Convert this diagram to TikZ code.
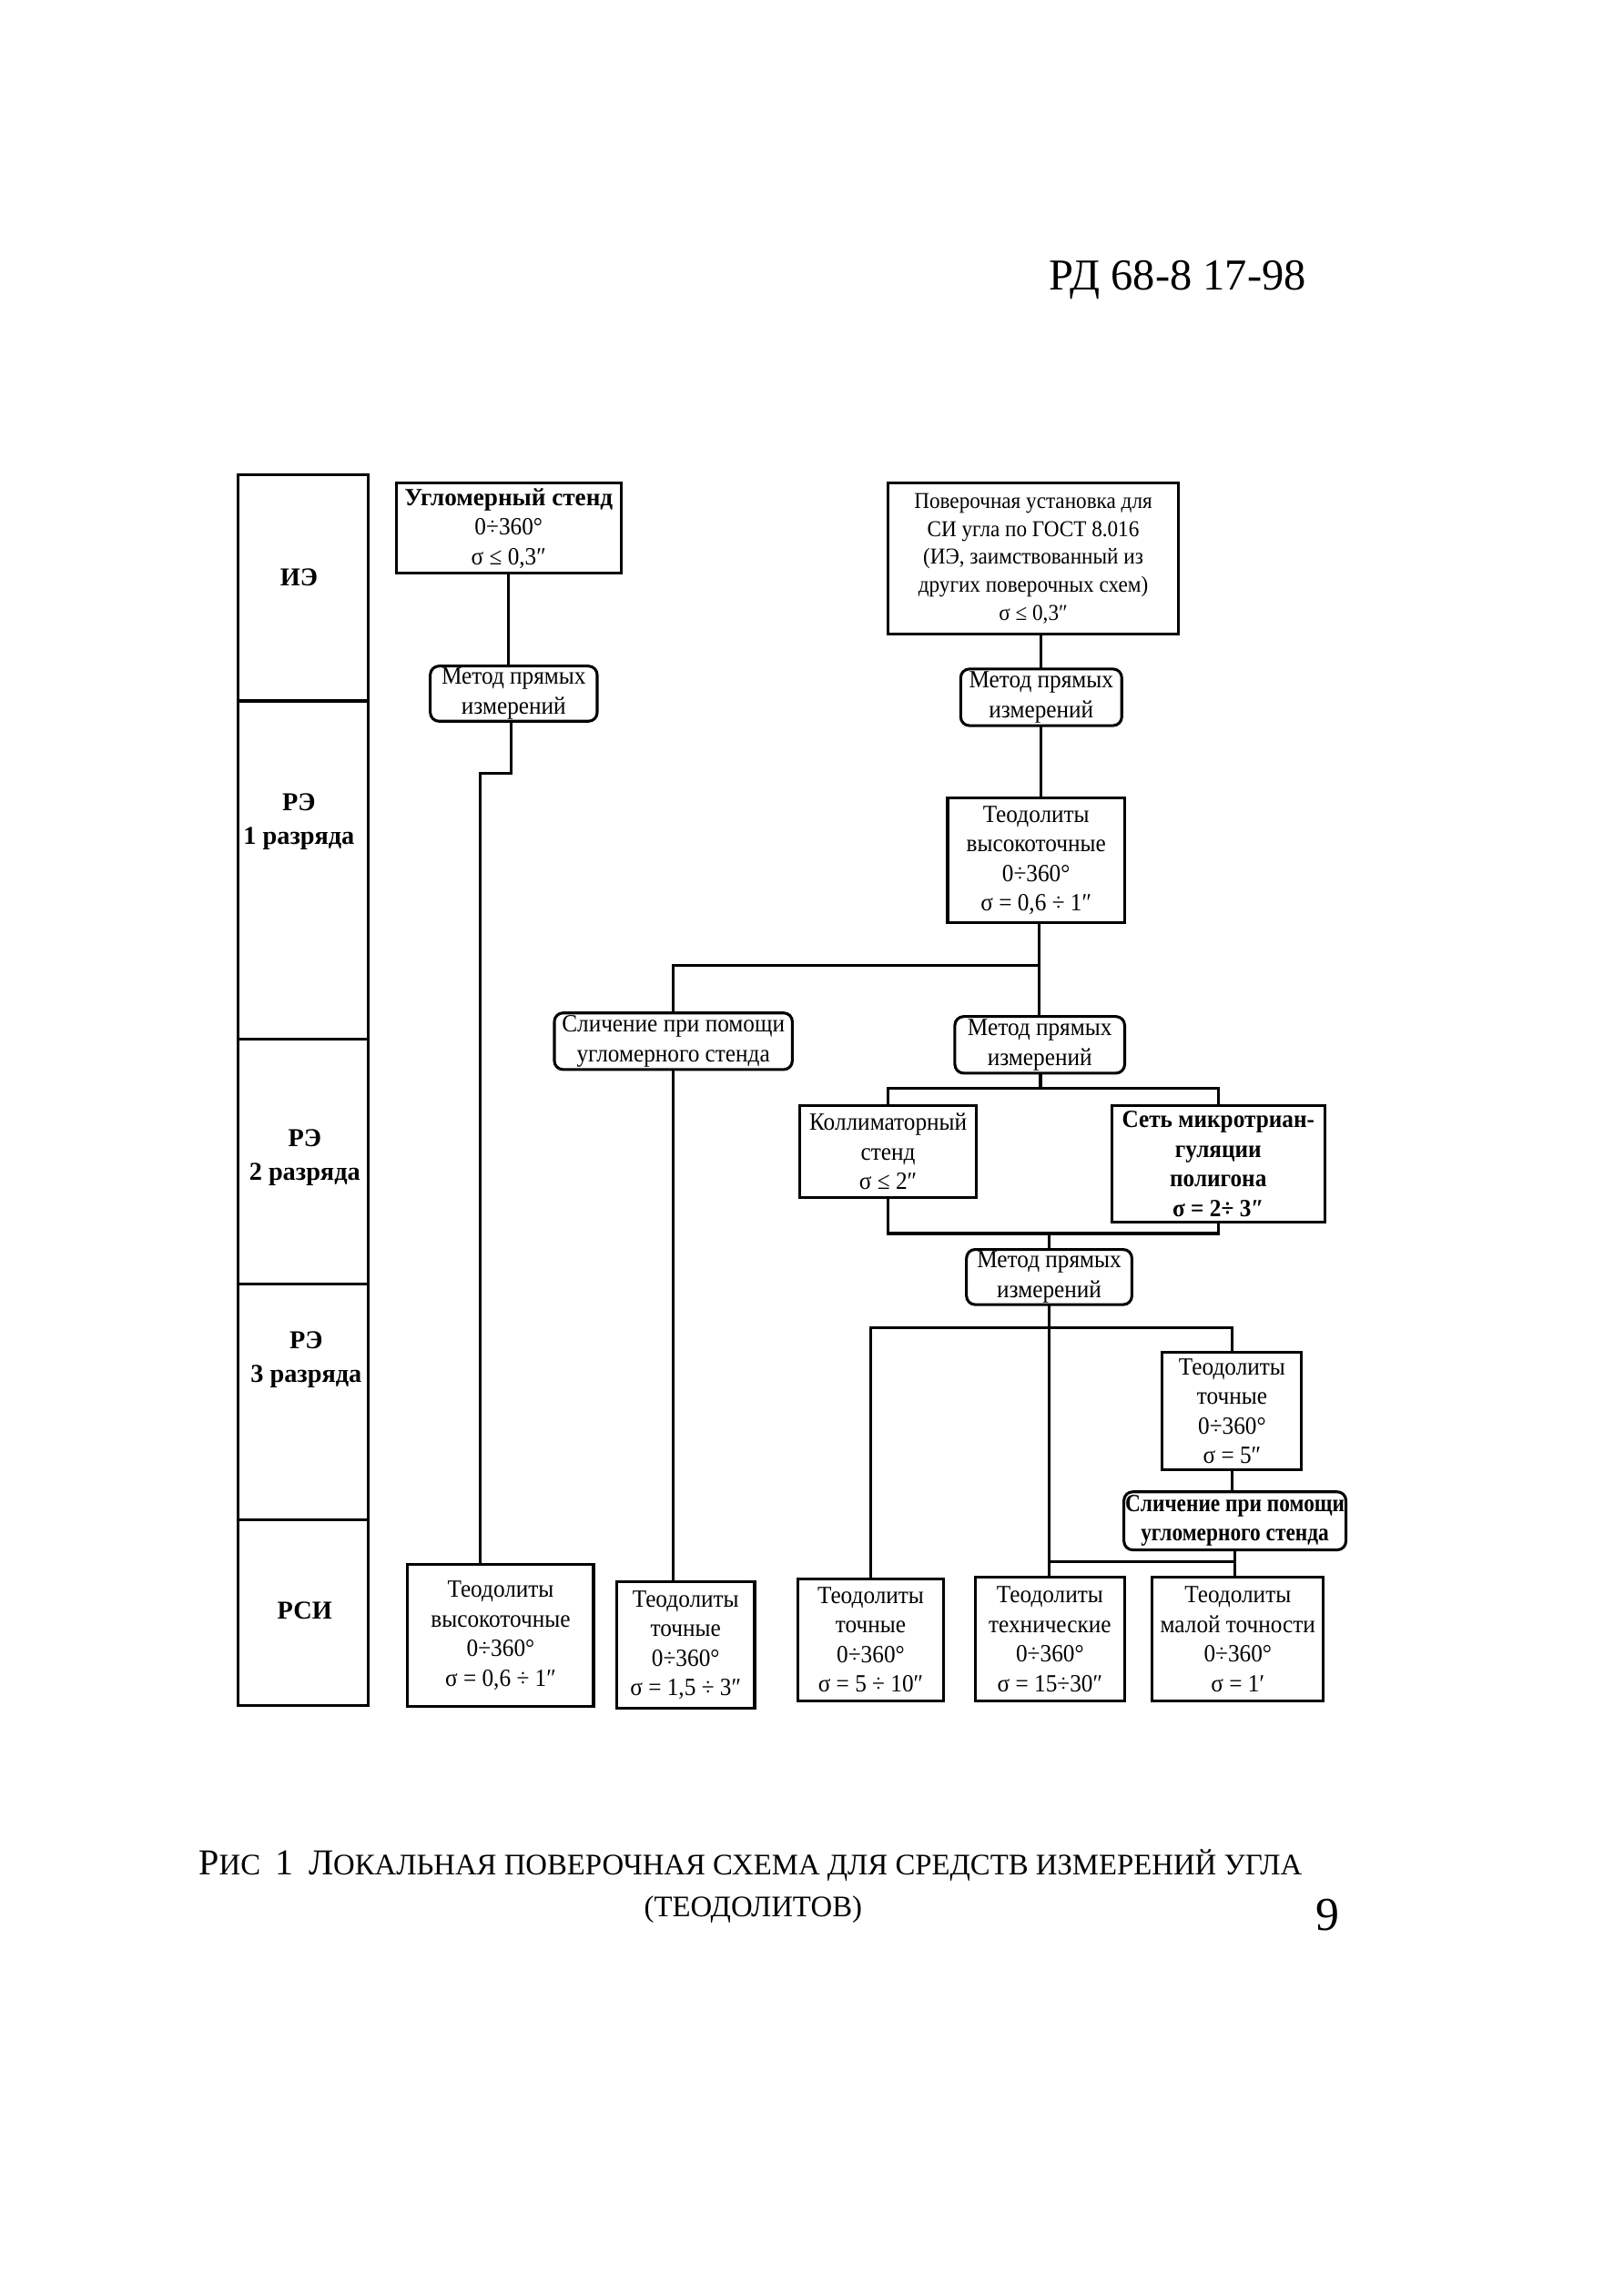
\documentclass[tikz,border=0pt]{standalone}
\usepackage{fontspec}
\setmainfont{Liberation Serif}
\newfontfamily\bxfam[FakeStretch=0.93]{Liberation Serif}
\newfontfamily\bxtightfam[FakeStretch=0.86]{Liberation Serif}
\newcommand\bxfont{\bxfam\fontsize{9.7}{11.6}\selectfont}
\newcommand\bxsmall{\bxfam\fontsize{8.9}{10.9}\selectfont}
\newcommand\lblfont{\bfseries\fontsize{10.1}{13.2}\selectfont}
\newcommand\hdrfont{\fontsize{17.3}{20}\selectfont}
\newcommand\capbig{\fontsize{14.3}{16}\selectfont}
\newcommand\capsm{\fontsize{11.7}{14}\selectfont}
\begin{document}
\begin{tikzpicture}[x=0.2mm,y=-0.2mm,
  every node/.style={inner sep=0pt, outer sep=0pt},
  box/.style={draw, line width=1.1pt, align=center, font=\bxfont},
  meth/.style={box, rounded corners=1.2mm},
  lbl/.style={align=center, font=\lblfont},
  wire/.style={line width=1.1pt},
  sz/.style 2 args={minimum width=#1*0.2mm, minimum height=#2*0.2mm}]
\useasboundingbox (0,0) rectangle (1119,1567);
\fill[white] (0,0) rectangle (1119,1567);

% header
\node[font=\hdrfont, anchor=base east] (hdr) at (900,200) {РД 68-8 17-98};

% left column
\draw[wire] (164,327) rectangle (254,1175);
\foreach \yy in {483,716,885,1047} \draw[wire] (164,\yy) -- (254,\yy);
\node[lbl] (lIE) at (206,398) {ИЭ};
\node[lbl] (lR1) at (206,566) {РЭ\\1 разряда};
\node[lbl] (lR2) at (210,798) {РЭ\\2 разряда};
\node[lbl] (lR3) at (211,937) {РЭ\\3 разряда};
\node[lbl] (lRSI) at (210,1110) {РСИ};

% boxes
\node[box, sz={155}{62}] (A) at (350.5,364) {{\rmfamily\bfseries Угломерный стенд}\\0÷360°\\σ ≤ 0,3″};
\node[box, sz={200}{104}, font=\bxsmall] (B) at (712,385) {Поверочная установка для\\СИ угла по ГОСТ 8.016\\(ИЭ, заимствованный из\\других поверочных схем)\\σ ≤ 0,3″};
\node[meth, sz={115}{38}] (ML) at (354,478) {Метод прямых\\измерений};
\node[meth, sz={111}{39}] (MR) at (717.5,480.5) {Метод прямых\\измерений};
\node[box, sz={122}{86}] (C) at (714,593) {Теодолиты\\высокоточные\\0÷360°\\σ = 0,6 ÷ 1″};
\node[meth, sz={164}{39}] (SL) at (464,717.5) {Сличение при помощи\\угломерного стенда};
\node[meth, sz={117}{39}] (MM) at (716.5,720) {Метод прямых\\измерений};
\node[box, sz={122}{63}] (Col) at (612,793.5) {Коллиматорный\\стенд\\σ ≤ 2″};
\node[box, sz={147}{80}] (Net) at (839.5,802) {\textbf{Сеть микротриан-}\\\textbf{гуляции}\\\textbf{полигона}\\\textbf{σ = 2÷ 3″}};
\node[meth, sz={114}{38}] (MLow) at (723,880) {Метод прямых\\измерений};
\node[box, sz={96}{81}] (T5) at (849,972.5) {Теодолиты\\точные\\0÷360°\\σ = 5″};
\node[meth, sz={153}{40}, font=\bxtightfam\fontsize{9.7}{11.6}\selectfont] (SR) at (851,1048) {\textbf{Сличение при помощи}\\\textbf{угломерного стенда}};
\node[box, sz={128}{98}] (B1) at (345,1127) {Теодолиты\\высокоточные\\0÷360°\\σ = 0,6 ÷ 1″};
\node[box, sz={95}{87}] (B2) at (472.5,1133.5) {Теодолиты\\точные\\0÷360°\\σ = 1,5 ÷ 3″};
\node[box, sz={100}{84}] (B3) at (600,1130) {Теодолиты\\точные\\0÷360°\\σ = 5 ÷ 10″};
\node[box, sz={103}{85}] (B4) at (723.5,1129.5) {Теодолиты\\технические\\0÷360°\\σ = 15÷30″};
\node[box, sz={118}{85}] (B5) at (853,1129.5) {Теодолиты\\малой точности\\0÷360°\\σ = 1′};

% connectors
\draw[wire] (A.south) -- (A.south |- ML.north);
\coordinate (j2) at (331,533);
\coordinate (j1) at (352,533);
\draw[wire] (ML.south -| j1) -- (j1) -- (j2) -- (j2 |- B1.north);
\draw[wire] (MR.north |- B.south) -- (MR.north);
\draw[wire] (MR.south) -- (MR.south |- C.north);
\coordinate (k1) at (716,665);
\draw[wire] (C.south -| k1) -- (k1) -- (k1 -| SL.north) -- (SL.north);
\draw[wire] (k1) -- (k1 |- MM.north);
\draw[wire] (SL.south) -- (SL.south |- B2.north);
\coordinate (k2) at (717,750);
\draw[wire] (MM.south -| k2) -- (k2);
\draw[wire] (Col.north) -- (Col.north |- k2) -- (Net.north |- k2) -- (Net.north);
\coordinate (k3) at (723,850);
\draw[wire] (Col.south) -- (Col.south |- k3) -- (Net.south |- k3) -- (Net.south);
\draw[wire] (k3) -- (MLow.north);
\coordinate (k4) at (723,915);
\draw[wire] (MLow.south) -- (MLow.south |- B4.north);
\draw[wire] (B3.north) -- (B3.north |- k4) -- (T5.north |- k4) -- (T5.north);
\draw[wire] (T5.south) -- (T5.south |- SR.north);
\coordinate (k5) at (851,1076);
\draw[wire] (SR.south) -- (SR.south |- B5.north);
\draw[wire] (k5) -- (k5 -| MLow.south);

% caption
\node[anchor=base west, font=\capsm] (cap1) at (137,1292) {{\capbig Р}ИС\enspace{\capbig 1}\enspace{\capbig Л}ОКАЛЬНАЯ ПОВЕРОЧНАЯ СХЕМА ДЛЯ СРЕДСТВ ИЗМЕРЕНИЙ УГЛА};
\node[anchor=base, font=\capsm] (cap2) at (519,1321) {(ТЕОДОЛИТОВ)};
\node[anchor=base, font=\fontsize{18.5}{22}\selectfont] (pnum) at (915,1330) {9};
\end{tikzpicture}
\end{document}
